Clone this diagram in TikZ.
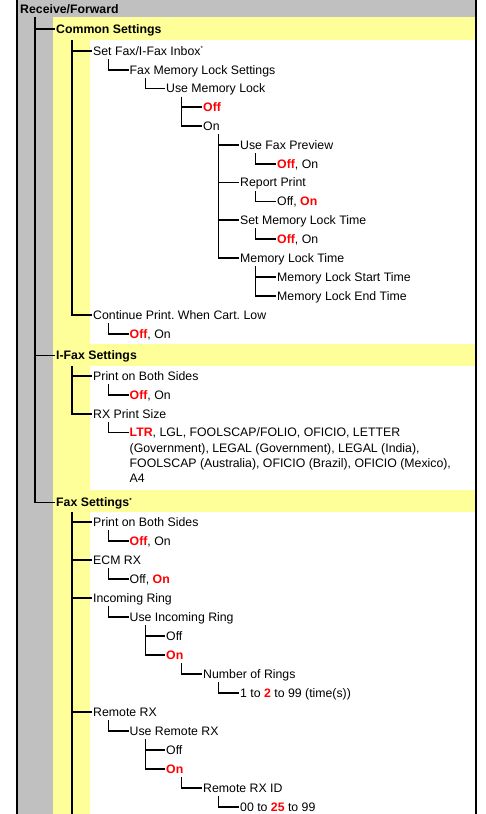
\documentclass[tikz,border=0pt]{standalone}
\usepackage{fontspec}
\setmainfont{Liberation Sans}
\definecolor{hdrgray}{HTML}{C0C0C0}
\definecolor{bandyellow}{HTML}{FFFF99}
\definecolor{defred}{HTML}{FF0000}
\newcommand{\dflt}[1]{\textcolor{defred}{\bfseries #1}}
\newcommand{\astx}{\raisebox{4.5pt}{\fontsize{6}{6}\selectfont *}}
\frenchspacing
\begin{document}
\begin{tikzpicture}[x=1pt,y=-1pt,
  item/.style={anchor=west, inner xsep=1pt, inner ysep=0pt, text height=8.8pt, text depth=0pt, font=\fontsize{12.3}{14}\selectfont\frenchspacing, text=black},
  head/.style={item, font=\fontsize{12.3}{14}\selectfont\bfseries},
  tree/.style={draw=black, line width=1.1pt},
  trunk/.style={draw=black, line width=1.5pt},
  border/.style={draw=black, line width=1.7pt}]
\useasboundingbox (0,0) rectangle (485,814);
% backgrounds
\fill[white] (0,0) rectangle (485,814);
\fill[hdrgray] (17,0) rectangle (476,17);
\fill[hdrgray] (17,0) rectangle (53,814);
\fill[bandyellow] (53,17) rectangle (90,814);
\fill[bandyellow] (53,17) rectangle (476,40);
\fill[bandyellow] (53,343.5) rectangle (476,366);
\fill[bandyellow] (53,490) rectangle (476,512);
\draw[border] (17,0) -- (17,814);
\draw[border] (476,0) -- (476,814);
% nodes
\node[head] (rf) at (19,9.5) {Receive/Forward};
\node[head] (cs) at (55,29) {Common Settings};
\node[item] (sf) at (92,51) {Set Fax/I-Fax Inbox\astx};
\node[item] (fml) at (128.5,70) {Fax Memory Lock Settings};
\node[item] (uml) at (165,88.5) {Use Memory Lock};
\node[item] (umloff) at (202,107) {\dflt{Off}};
\node[item] (umlon) at (202,126) {On};
\node[item] (ufp) at (239,145) {Use Fax Preview};
\node[item] (ufpv) at (276,164) {\dflt{Off}, On};
\node[item] (rp) at (239,182.5) {Report Print};
\node[item] (rpv) at (276,201.5) {Off, \dflt{On}};
\node[item] (smlt) at (239,220) {Set Memory Lock Time};
\node[item] (smltv) at (276,239) {\dflt{Off}, On};
\node[item] (mlt) at (239,258) {Memory Lock Time};
\node[item] (mlst) at (276,277) {Memory Lock Start Time};
\node[item] (mlet) at (276,296) {Memory Lock End Time};
\node[item] (cp) at (92,315) {Continue Print. When Cart. Low};
\node[item] (cpv) at (128.5,334) {\dflt{Off}, On};
\node[head] (ifx) at (55,355.5) {I-Fax Settings};
\node[item] (ipb) at (92,376) {Print on Both Sides};
\node[item] (ipbv) at (128.5,395) {\dflt{Off}, On};
\node[item] (irx) at (92,414) {RX Print Size};
\node[item] (ltra) at (128.5,432.5) {\dflt{LTR}, LGL, FOOLSCAP/FOLIO, OFICIO, LETTER};
\node[item] (ltrb) at (128.5,447.7) {(Government), LEGAL (Government), LEGAL (India),};
\node[item] (ltrc) at (128.5,462.7) {FOOLSCAP (Australia), OFICIO (Brazil), OFICIO (Mexico),};
\node[item] (ltrd) at (128.5,477.7) {A4};
\node[head] (fxs) at (55,502.5) {Fax Settings\astx};
\node[item] (fpb) at (92,522) {Print on Both Sides};
\node[item] (fpbv) at (128.5,541) {\dflt{Off}, On};
\node[item] (ecm) at (92,560) {ECM RX};
\node[item] (ecmv) at (128.5,579) {Off, \dflt{On}};
\node[item] (inr) at (92,598) {Incoming Ring};
\node[item] (uir) at (128.5,617) {Use Incoming Ring};
\node[item] (uiroff) at (165,636) {Off};
\node[item] (uiron) at (165,655) {\dflt{On}};
\node[item] (nor) at (202,674) {Number of Rings};
\node[item] (norv) at (239,693) {1 to \dflt{2} to 99 (time(s))};
\node[item] (rrx) at (92,712) {Remote RX};
\node[item] (urx) at (128.5,731) {Use Remote RX};
\node[item] (urxoff) at (165,750) {Off};
\node[item] (urxon) at (165,769) {\dflt{On}};
\node[item] (rid) at (202,788) {Remote RX ID};
\node[item] (ridv) at (239,807) {00 to \dflt{25} to 99};
% trunks
\coordinate (rfs) at (35,17);
\draw[trunk] (rfs) |- (fxs.west);
\draw[trunk] (rfs |- cs.west) -- (cs.west);
\draw[trunk] (rfs |- ifx.west) -- (ifx.west);
\coordinate (css) at (72,40);
\draw[trunk] (css) |- (cp.west);
\draw[trunk] (css |- sf.west) -- (sf.west);
\coordinate (ifs) at (72,366);
\draw[trunk] (ifs) |- (irx.west);
\draw[trunk] (ifs |- ipb.west) -- (ipb.west);
\coordinate (fss) at (72,512);
\coordinate (fse) at (72,814);
\draw[trunk] (fss) -- (fse);
\draw[trunk] (fss |- fpb.west) -- (fpb.west);
\draw[trunk] (fss |- ecm.west) -- (ecm.west);
\draw[trunk] (fss |- inr.west) -- (inr.west);
\draw[trunk] (fss |- rrx.west) -- (rrx.west);
% inner elbows
\draw[tree] ([shift={(16.7,8)}]sf.west) |- (fml.west);
\draw[tree] ([shift={(16.7,8)}]fml.west) |- (uml.west);
\coordinate (umls) at ([shift={(16.7,8)}]uml.west);
\draw[tree] (umls) |- (umlon.west);
\draw[tree] (umls |- umloff.west) -- (umloff.west);
\coordinate (umlons) at ([shift={(16.7,8)}]umlon.west);
\draw[tree] (umlons) |- (mlt.west);
\draw[tree] (umlons |- ufp.west) -- (ufp.west);
\draw[tree] (umlons |- rp.west) -- (rp.west);
\draw[tree] (umlons |- smlt.west) -- (smlt.west);
\draw[tree] ([shift={(16.7,8)}]ufp.west) |- (ufpv.west);
\draw[tree] ([shift={(16.7,8)}]rp.west) |- (rpv.west);
\draw[tree] ([shift={(16.7,8)}]smlt.west) |- (smltv.west);
\coordinate (mlts) at ([shift={(16.7,8)}]mlt.west);
\draw[tree] (mlts) |- (mlet.west);
\draw[tree] (mlts |- mlst.west) -- (mlst.west);
\draw[tree] ([shift={(16.7,8)}]cp.west) |- (cpv.west);
\draw[tree] ([shift={(16.7,8)}]ipb.west) |- (ipbv.west);
\draw[tree] ([shift={(16.7,8)}]irx.west) |- (ltra.west);
\draw[tree] ([shift={(16.7,8)}]fpb.west) |- (fpbv.west);
\draw[tree] ([shift={(16.7,8)}]ecm.west) |- (ecmv.west);
\draw[tree] ([shift={(16.7,8)}]inr.west) |- (uir.west);
\coordinate (uirs) at ([shift={(16.7,8)}]uir.west);
\draw[tree] (uirs) |- (uiron.west);
\draw[tree] (uirs |- uiroff.west) -- (uiroff.west);
\draw[tree] ([shift={(16.7,8)}]uiron.west) |- (nor.west);
\draw[tree] ([shift={(16.7,8)}]nor.west) |- (norv.west);
\draw[tree] ([shift={(16.7,8)}]rrx.west) |- (urx.west);
\coordinate (urxs) at ([shift={(16.7,8)}]urx.west);
\draw[tree] (urxs) |- (urxon.west);
\draw[tree] (urxs |- urxoff.west) -- (urxoff.west);
\draw[tree] ([shift={(16.7,8)}]urxon.west) |- (rid.west);
\draw[tree] ([shift={(16.7,8)}]rid.west) |- (ridv.west);
\end{tikzpicture}
\end{document}
